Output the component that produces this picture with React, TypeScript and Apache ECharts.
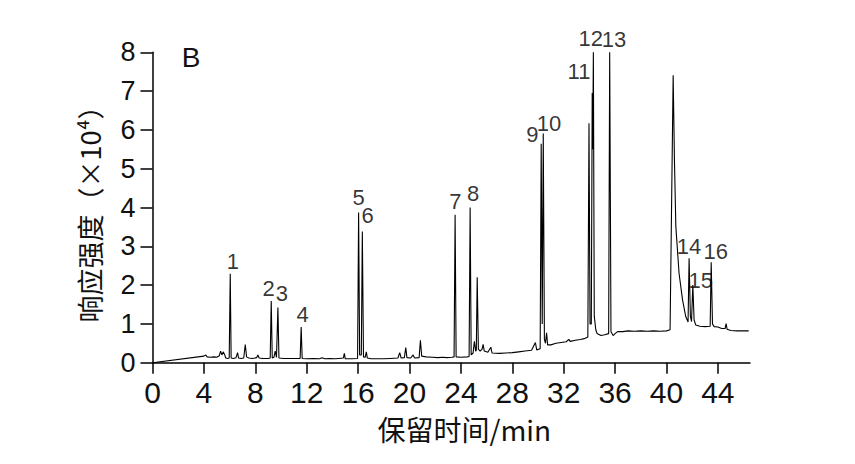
import React, { useEffect, useRef } from "react";
import * as echarts from "echarts";

// Chromatogram trace: [retention time (min), response (×10^4)]
const chromatogram: [number, number][] = [
  [0, 0], [4.0, 0.17], [4.15, 0.2], [4.25, 0.15], [4.5, 0.14], [4.8, 0.15], [5.0, 0.14], [5.2, 0.18],
  [5.3, 0.3], [5.4, 0.2], [5.5, 0.28], [5.6, 0.22], [5.7, 0.12], [5.85, 0.11], [5.97, 0.12],
  [6.05, 2.29], [6.12, 0.12], [6.3, 0.11], [6.5, 0.13], [6.62, 0.26], [6.7, 0.12], [6.9, 0.11],
  [7.1, 0.12], [7.22, 0.47], [7.32, 0.15], [7.5, 0.12], [7.8, 0.11], [8.1, 0.13], [8.2, 0.2],
  [8.3, 0.12], [8.6, 0.11], [9.0, 0.11], [9.16, 0.12], [9.24, 1.59], [9.32, 0.12], [9.45, 0.14],
  [9.55, 0.3], [9.65, 0.14], [9.68, 0.13], [9.76, 1.42], [9.84, 0.12], [10.2, 0.11], [10.6, 0.11],
  [11.0, 0.11], [11.49, 0.11], [11.57, 0.92], [11.65, 0.11], [12.0, 0.1], [12.5, 0.11], [13.0, 0.1],
  [13.2, 0.13], [13.4, 0.1], [13.8, 0.11], [14.2, 0.1], [14.5, 0.11], [14.85, 0.12], [14.93, 0.24],
  [15.0, 0.1], [15.5, 0.1], [15.96, 0.11], [16.04, 3.87], [16.12, 0.2], [16.25, 0.2], [16.33, 3.38],
  [16.42, 0.15], [16.55, 0.14], [16.64, 0.28], [16.72, 0.12], [17.0, 0.1], [17.5, 0.1], [18.0, 0.1],
  [18.5, 0.11], [19.1, 0.12], [19.24, 0.26], [19.35, 0.12], [19.6, 0.13], [19.71, 0.39], [19.8, 0.13],
  [20.1, 0.12], [20.28, 0.2], [20.4, 0.12], [20.75, 0.13], [20.85, 0.58], [20.95, 0.17], [21.3, 0.15],
  [21.8, 0.14], [22.2, 0.13], [22.6, 0.14], [22.9, 0.13], [23.3, 0.14], [23.47, 0.15], [23.55, 3.81],
  [23.63, 0.15], [24.0, 0.14], [24.5, 0.15], [24.64, 0.16], [24.72, 4.0], [24.8, 0.2], [24.95, 0.25],
  [25.05, 0.55], [25.15, 0.3], [25.2, 0.32], [25.27, 2.2], [25.36, 0.35], [25.5, 0.3], [25.65, 0.35],
  [25.73, 0.47], [25.82, 0.3], [26.1, 0.27], [26.33, 0.4], [26.42, 0.25], [27.0, 0.24], [27.5, 0.25],
  [28.0, 0.26], [28.5, 0.28], [29.0, 0.3], [29.5, 0.32], [29.8, 0.52], [29.9, 0.33], [30.17, 0.36],
  [30.25, 5.64], [30.33, 1.0], [30.41, 5.91], [30.5, 0.6], [30.58, 0.5], [30.67, 0.77], [30.75, 0.46],
  [31.0, 0.46], [31.4, 0.5], [31.8, 0.52], [32.2, 0.54], [32.4, 0.6], [32.5, 0.55], [32.9, 0.58],
  [33.3, 0.6], [33.6, 0.62], [33.88, 0.66], [33.97, 6.17], [34.05, 1.0], [34.15, 1.0], [34.22, 6.95],
  [34.26, 5.5], [34.31, 8.0], [34.38, 1.2], [34.5, 0.85], [34.6, 0.75], [34.9, 0.7], [35.2, 0.72],
  [35.5, 0.75], [35.58, 8.0], [35.68, 0.8], [35.85, 0.7], [36.0, 0.75], [36.2, 0.8], [36.6, 0.8],
  [37.0, 0.82], [37.5, 0.81], [38.0, 0.82], [38.5, 0.81], [39.0, 0.82], [39.5, 0.81], [40.0, 0.82],
  [40.28, 0.85], [40.52, 7.41], [40.62, 5.22], [40.73, 3.5], [40.98, 2.3], [41.25, 1.62], [41.5, 1.19],
  [41.68, 1.05], [41.76, 2.69], [41.86, 1.2], [41.95, 1.06], [42.05, 2.0], [42.15, 1.1], [42.28, 0.97],
  [42.6, 0.94], [43.0, 0.93], [43.4, 0.94], [43.48, 2.59], [43.58, 1.0], [43.71, 0.93], [44.0, 0.92],
  [44.3, 0.88], [44.56, 0.88], [44.64, 1.01], [44.72, 0.86], [45.0, 0.83], [45.5, 0.82], [46.0, 0.82],
  [46.4, 0.82],
];

// Peak numbering labels (placed near each peak apex)
const peakNames = ["1", "2", "3", "4", "5", "6", "7", "8", "9", "10", "11", "12", "13", "14", "15", "16"];
const peakLabelX = [6.25, 9.03, 10.07, 11.68, 16.05, 16.75, 23.58, 24.96, 29.56, 30.85, 33.19, 34.1, 35.92, 41.76, 42.67, 43.84];
const peakLabelY = [2.6, 1.92, 1.79, 1.23, 4.27, 3.8, 4.15, 4.37, 5.87, 6.17, 7.5, 8.36, 8.32, 2.99, 2.13, 2.86];

const xTicks = [0, 4, 8, 12, 16, 20, 24, 28, 32, 36, 40, 44];
const xMax = 46.5;
const yMin = 0;
const yMax = 8;
const yInterval = 1;

const xName = "保留时间/min";
const yName = "响应强度（×10⁴）";
const panelLabel = "B";

export default function App() {
  const ref = useRef<HTMLDivElement>(null);

  useEffect(() => {
    if (!ref.current) return;
    const chart = echarts.init(ref.current, undefined, { renderer: "svg" });
    const numFont = "'Liberation Sans Narrow', 'Liberation Sans', Arial, sans-serif";
    const cjkFont = "'Noto Sans CJK SC', 'Liberation Sans', sans-serif";

    chart.setOption({
      animation: false,
      backgroundColor: "#ffffff",
      grid: {
        left: 152.5,
        right: 105,
        top: 52.3,
        bottom: 101.3,
        containLabel: false,
        outerBoundsMode: "none",
      },
      xAxis: {
        type: "value",
        min: 0,
        max: xMax,
        name: xName,
        nameLocation: "middle",
        nameGap: 52,
        nameTextStyle: {
          fontFamily: cjkFont,
          fontSize: 28,
          color: "#111",
          padding: [0, 0, 0, 26],
        },
        axisLine: { show: true, onZero: false, lineStyle: { color: "#000", width: 1.5 } },
        axisTick: {
          show: true,
          inside: false,
          length: 11,
          customValues: xTicks,
          lineStyle: { color: "#000", width: 1.5 },
        },
        axisLabel: {
          customValues: xTicks,
          margin: 15,
          fontFamily: numFont,
          fontSize: 30,
          color: "#111",
        },
        splitLine: { show: false },
      },
      yAxis: {
        type: "value",
        min: yMin,
        max: yMax,
        interval: yInterval,
        name: yName,
        nameLocation: "middle",
        nameRotate: 90,
        nameGap: 50,
        nameTextStyle: {
          fontFamily: cjkFont,
          fontSize: 27,
          color: "#111",
        },
        axisLine: { show: true, onZero: false, lineStyle: { color: "#000", width: 1.5 } },
        axisTick: { show: true, inside: false, length: 12, lineStyle: { color: "#000", width: 1.5 } },
        axisLabel: {
          margin: 17,
          fontFamily: numFont,
          fontSize: 27,
          color: "#111",
        },
        splitLine: { show: false },
      },
      series: [
        {
          type: "line",
          data: chromatogram,
          showSymbol: false,
          symbol: "none",
          lineStyle: { color: "#000", width: 1.1 },
          clip: true,
        },
        {
          type: "scatter",
          clip: false,
          symbolSize: 1,
          itemStyle: { color: "rgba(0,0,0,0)" },
          silent: true,
          data: peakNames.map((n, i) => ({ name: n, value: [peakLabelX[i], peakLabelY[i]] })),
          label: {
            show: true,
            position: "inside",
            formatter: "{b}",
            fontFamily: "'Liberation Sans', Arial, sans-serif",
            fontSize: 22,
            color: "#000",
            textBorderWidth: 0,
          },
        },
      ],
      graphic: [
        {
          type: "text",
          x: 191,
          y: 57,
          style: {
            text: panelLabel,
            fontFamily: "'Liberation Sans', Arial, sans-serif",
            fontSize: 28,
            fill: "#111",
            textAlign: "center",
            textVerticalAlign: "middle",
          },
        },
      ],
    });

    return () => {
      chart.dispose();
    };
  }, []);

  return (
    <div
      ref={ref}
      style={{ position: "fixed", left: 0, top: 0, width: 855, height: 464, background: "#fff" }}
    />
  );
}
